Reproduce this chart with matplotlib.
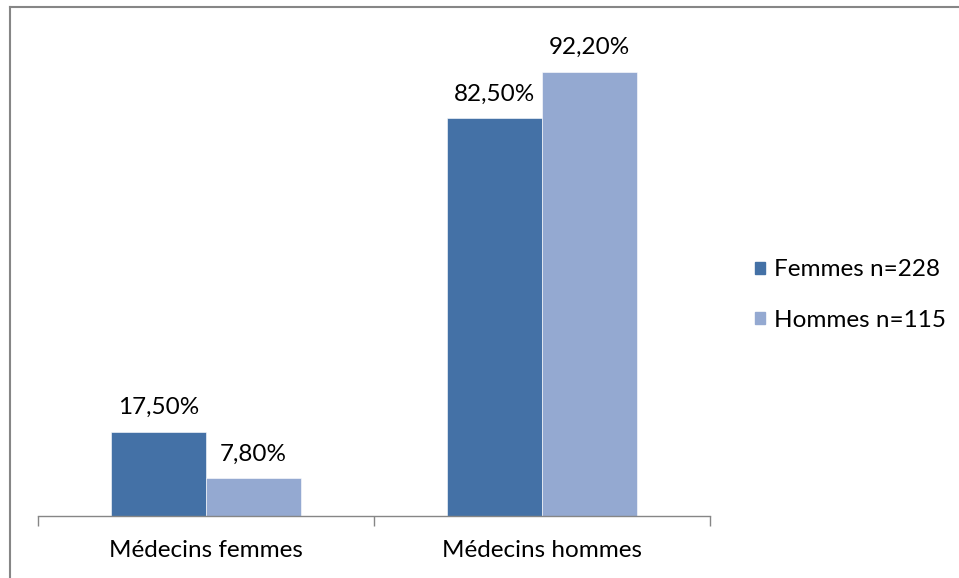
import matplotlib
matplotlib.use("Agg")
import matplotlib.pyplot as plt
from matplotlib.lines import Line2D
from matplotlib.patches import Patch
import numpy as np

categories = ["Médecins femmes", "Médecins hommes"]
series_names = ["Femmes n=228", "Hommes n=115"]
femmes = [17.5, 82.5]
hommes = [7.8, 92.2]
value_labels_f = ["17,50%", "82,50%"]
value_labels_h = ["7,80%", "92,20%"]

colors = ["#4471A6", "#94A9D1"]
W, H = 959, 578
fig = plt.figure(figsize=(W / 100, H / 100), dpi=100)
plt.rcParams['font.family'] = ['Lato', 'DejaVu Sans']
FS = 17.5

ax = fig.add_axes([38 / W, (H - 516) / H, (710 - 38) / W, (516 - 34) / H])
x = np.arange(len(categories))
bw = 0.284
b1 = ax.bar(x - bw / 2, femmes, bw, color=colors[0], edgecolor="white", linewidth=0.4)
b2 = ax.bar(x + bw / 2, hommes, bw, color=colors[1], edgecolor="white", linewidth=0.4)

for bars, labs in ((b1, value_labels_f), (b2, value_labels_h)):
    for r, lab in zip(bars, labs):
        ax.annotate(lab, (r.get_x() + r.get_width() / 2, r.get_height()),
                    xytext=(0, 10), textcoords="offset points",
                    ha="center", va="bottom", fontsize=FS, color="black")

ax.set_xlim(-0.5, 1.5)
ax.set_ylim(0, 100)
for s in ("top", "left", "right"):
    ax.spines[s].set_visible(False)
ax.spines["bottom"].set_color("#868686")
ax.spines["bottom"].set_linewidth(1)
ax.set_yticks([])
ax.set_xticks([-0.5, 0.5, 1.5])
ax.set_xticklabels([])
ax.set_xticks(x, minor=True)
ax.set_xticklabels(categories, minor=True, fontsize=FS)
ax.tick_params(axis="x", which="major", length=7, color="#868686", width=1)
ax.tick_params(axis="x", which="minor", length=0, pad=17)

handles = [Patch(color=c, label=n) for c, n in zip(colors, series_names)]
fig.legend(handles=handles, loc="center left", bbox_to_anchor=(733 / W, 1 - 295 / H),
           frameon=False, fontsize=FS, handlelength=0.4, handleheight=0.4,
           handletextpad=0.4, labelspacing=1.2)

# outer border (left and top visible)
fig.add_artist(Line2D([9.5 / W, 9.5 / W], [0, 1 - 6.5 / H], transform=fig.transFigure,
                      color="#868686", linewidth=1.5))
fig.add_artist(Line2D([9.5 / W, 1], [1 - 6.5 / H, 1 - 6.5 / H], transform=fig.transFigure,
                      color="#868686", linewidth=1.5))

fig.savefig("out.png", dpi=100)
